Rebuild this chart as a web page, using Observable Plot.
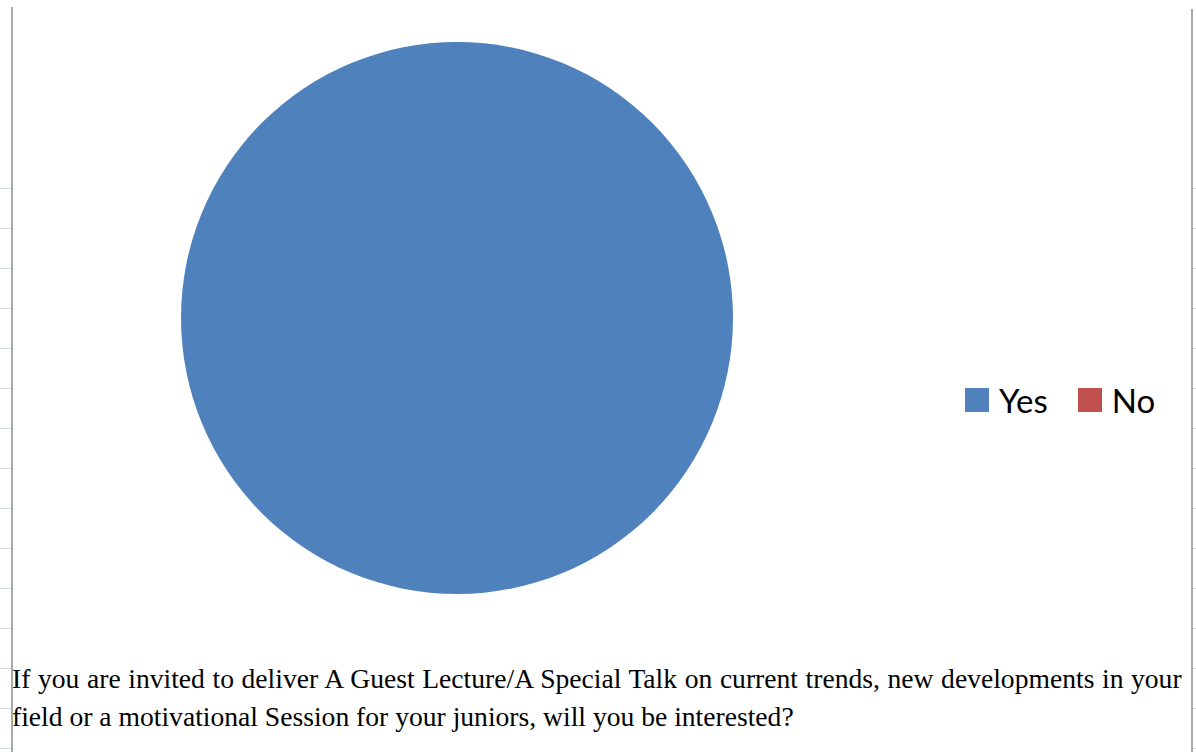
<!DOCTYPE html>
<html>
<head>
<meta charset="utf-8">
<script src="https://cdn.jsdelivr.net/npm/d3@7"></script>
<script src="https://cdn.jsdelivr.net/npm/@observablehq/plot@0.6"></script>
<style>
  html, body { margin: 0; padding: 0; background: #fff; }
  #wrap { position: relative; width: 1196px; height: 752px; overflow: hidden; background: #fff; }
  #chart { position: absolute; left: 0; top: 0; }
  .vline { position: absolute; width: 2px; background: #a9a9a9; top: 7px; bottom: 0; }
  .ticks { position: absolute; top: 0; bottom: 0;
    background: repeating-linear-gradient(to bottom, transparent 0px, transparent 39px, #d3d9e6 39px, #d3d9e6 40px);
    background-position: 0 0; }
  #caption { position: absolute; left: 12px; top: 660px; width: 1180px;
    font-family: "Liberation Serif", "Times New Roman", serif; font-size: 27.6px; line-height: 38px;
    color: #000; white-space: nowrap; }
  #caption div:first-child { word-spacing: 0.7px; }
  #legend { position: absolute; left: 965px; top: 380px; }
  .lg-swatches { font-family: Lato, "Open Sans", sans-serif !important; font-size: 33px !important; color:#000; }
  .lg-swatch > svg { margin-right: 10px !important; }
  .lg-swatch { margin-right: 30px !important; }
</style>
</head>
<body>
<div id="wrap">
  <div class="ticks" style="left:0;width:11px;top:149px;"></div>
  <div class="ticks" style="left:1193px;width:3px;top:149px;"></div>
  <div class="vline" style="left:11px;"></div>
  <div class="vline" style="left:1191px;top:9px;"></div>
  <div id="chart"></div>
  <div id="legend"></div>
  <div id="caption"></div>
</div>
<script>
// ---- data ----
const categories = ["Yes", "No"];
const values = [100, 0];
const colors = ["#4F81BD", "#C0504D"];
const captionLines = [
  "If you are invited to deliver A Guest Lecture/A Special Talk on current trends, new developments in your",
  "field or a motivational Session for your juniors, will you be interested?"
];

const data = categories.map((c, i) => ({category: c, value: values[i]}));
const color = Plot.scale({color: {type: "ordinal", domain: categories, range: colors}});

const cx = 457, cy = 318, r = 276;

function pieMark(index, scales, vals, dimensions) {
  const pie = d3.pie().sort(null).value(d => d.value).startAngle(0).endAngle(2 * Math.PI);
  const arc = d3.arc().innerRadius(0).outerRadius(r);
  const g = d3.create("svg:g").attr("transform", `translate(${cx},${cy})`);
  g.selectAll("path")
    .data(pie(data).filter(a => a.endAngle - a.startAngle > 0))
    .join("path")
    .attr("d", arc)
    .attr("fill", d => color.apply(d.data.category));
  return g.node();
}

const plot = Plot.plot({
  width: 1196,
  height: 640,
  margin: 0,
  style: {background: "transparent"},
  marks: [pieMark]
});
document.getElementById("chart").appendChild(plot);

const legend = Plot.legend({
  color: {type: "ordinal", domain: categories, range: colors},
  legend: "swatches",
  swatchSize: 24,
  className: "lg",
  style: {fontFamily: "Lato, 'Open Sans', sans-serif", fontSize: "33px", color: "#000"}
});
document.getElementById("legend").appendChild(legend);

document.getElementById("caption").innerHTML = captionLines.map(l => `<div>${l}</div>`).join("");
</script>
</body>
</html>
